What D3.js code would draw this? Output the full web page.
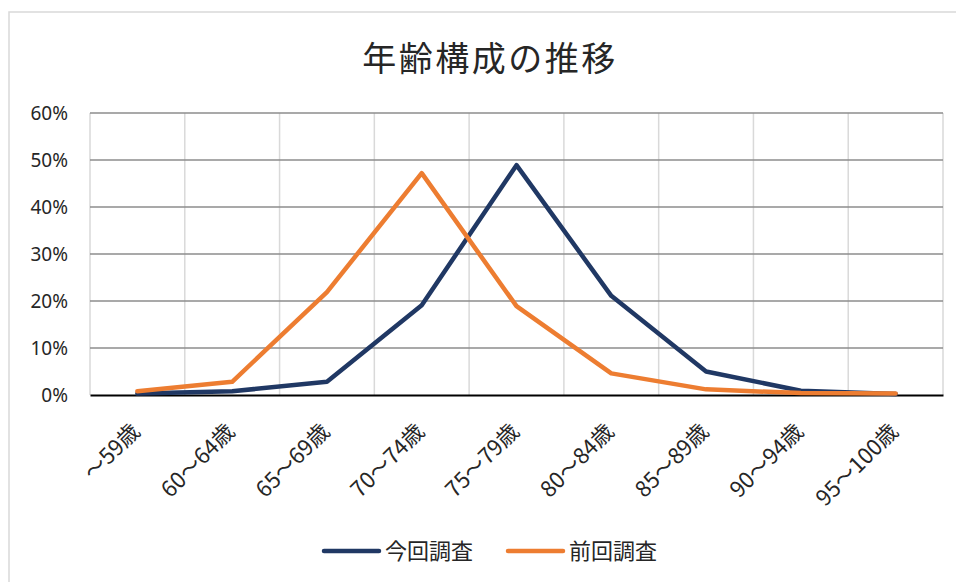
<!DOCTYPE html>
<html>
<head>
<meta charset="utf-8">
<script src="https://cdn.jsdelivr.net/npm/d3@7"></script>
<style>
  body { margin: 0; background: #fff; }
  svg text { font-family: "Noto Sans CJK JP", "Noto Sans", sans-serif; fill: #262626; }
</style>
</head>
<body>
<div id="chart"></div>
<script>
// categories and series
var ages = ["～59歳", "60～64歳", "65～69歳", "70～74歳", "75～79歳", "80～84歳", "85～89歳", "90～94歳", "95～100歳"];
var current = [0.3, 0.8, 2.8, 19.1, 48.9, 21.1, 5.0, 0.9, 0.2];   // 今回調査
var previous = [0.8, 2.8, 21.9, 47.2, 18.9, 4.6, 1.2, 0.4, 0.3];  // 前回調査
var yTicks = [0, 10, 20, 30, 40, 50, 60];

var width = 956, height = 582;
var margin = { top: 113, right: 13, bottom: 187, left: 90 };

var svg = d3.select("#chart").append("svg")
  .attr("width", width)
  .attr("height", height);

// outer chart border
svg.append("rect")
  .attr("x", 9).attr("y", 12)
  .attr("width", 960).attr("height", 600)
  .attr("fill", "none")
  .attr("stroke", "#d9d9d9")
  .attr("stroke-width", 1.5);

var w = width - margin.left - margin.right;
var h = height - margin.top - margin.bottom;

var g = svg.append("g")
  .attr("transform", "translate(" + margin.left + "," + margin.top + ")");

var x = d3.scaleBand().domain(ages).range([0, w]);
var y = d3.scaleLinear().domain([0, 60]).range([h, 0]);

// vertical gridlines (category boundaries)
var bounds = ages.map(function(d) { return x(d); }).concat([w]);
g.selectAll(".vgrid")
  .data(bounds)
  .enter().append("line")
  .attr("x1", function(d) { return d; })
  .attr("x2", function(d) { return d; })
  .attr("y1", 0).attr("y2", h)
  .attr("stroke", "#d9d9d9")
  .attr("stroke-width", 1.5);

// horizontal gridlines
g.selectAll(".hgrid")
  .data(yTicks.slice(1))
  .enter().append("line")
  .attr("x1", 0).attr("x2", w)
  .attr("y1", function(d) { return y(d); })
  .attr("y2", function(d) { return y(d); })
  .attr("stroke", "#8c8c8c")
  .attr("stroke-width", 1.5);

// y axis labels
var yAxis = g.append("g")
  .call(d3.axisLeft(y).tickValues(yTicks).tickFormat(function(d) { return d + "%"; }).tickSize(0).tickPadding(22));
yAxis.select(".domain").remove();
yAxis.selectAll("text")
  .style("font-size", "19px")
  .style("font-family", "'Noto Sans', sans-serif")
  .attr("fill", "#262626");

// x axis
var xAxis = g.append("g")
  .attr("transform", "translate(0," + h + ")")
  .call(d3.axisBottom(x).tickSize(0).tickPadding(0));
xAxis.select(".domain")
  .attr("stroke", "#000")
  .attr("stroke-width", 2);
xAxis.selectAll("text")
  .style("font-size", "22px")
  .attr("fill", "#262626")
  .attr("text-anchor", "end")
  .attr("dy", 0)
  .attr("transform", "translate(4,38) rotate(-45)");

// lines
var line = d3.line()
  .x(function(d, i) { return x(ages[i]) + x.bandwidth() / 2; })
  .y(function(d) { return y(d); });

g.append("path")
  .datum(current)
  .attr("fill", "none")
  .attr("stroke", "#203864")
  .attr("stroke-width", 4.5)
  .attr("stroke-linejoin", "round")
  .attr("stroke-linecap", "round")
  .attr("d", line);

g.append("path")
  .datum(previous)
  .attr("fill", "none")
  .attr("stroke", "#ed7d31")
  .attr("stroke-width", 4.5)
  .attr("stroke-linejoin", "round")
  .attr("stroke-linecap", "round")
  .attr("d", line);

// title
svg.append("text")
  .attr("x", 490)
  .attr("y", 71)
  .attr("text-anchor", "middle")
  .style("font-size", "34px")
  .style("letter-spacing", "2.5px")
  .text("年齢構成の推移");

// legend
var legendItems = [
  { name: "今回調査", color: "#203864", x: 324 },
  { name: "前回調査", color: "#ed7d31", x: 508 }
];
var legend = svg.append("g");
legendItems.forEach(function(d) {
  legend.append("line")
    .attr("x1", d.x).attr("x2", d.x + 55)
    .attr("y1", 551).attr("y2", 551)
    .attr("stroke", d.color)
    .attr("stroke-width", 4.5)
    .attr("stroke-linecap", "round");
  legend.append("text")
    .attr("x", d.x + 61)
    .attr("y", 559)
    .style("font-size", "22px")
    .text(d.name);
});
</script>
</body>
</html>
